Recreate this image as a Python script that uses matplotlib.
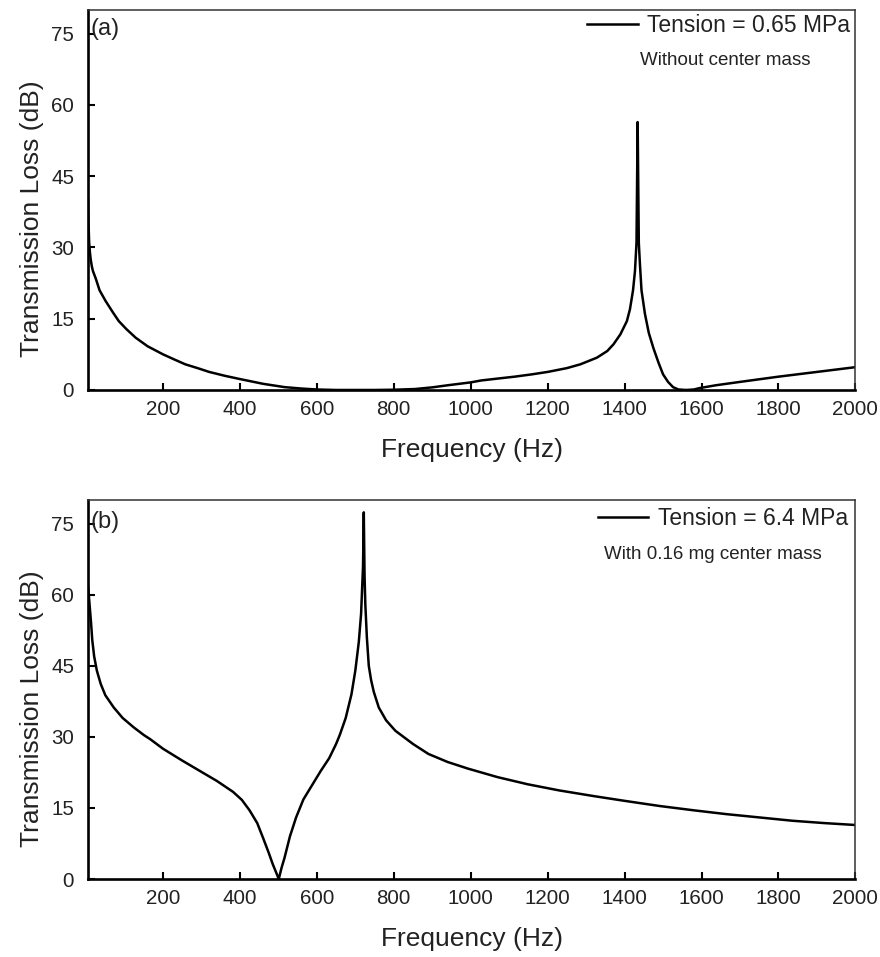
import matplotlib
matplotlib.use("Agg")
import matplotlib.pyplot as plt
from matplotlib.ticker import MultipleLocator

plt.rcParams['font.family'] = ['Liberation Sans', 'DejaVu Sans']

# panel (a): tension 0.65 MPa, no center mass
freq_a = [5, 6, 8, 10, 12, 15, 18, 25, 35, 51, 70, 85, 105, 129, 160, 200, 230,
          258, 290, 320, 360, 400, 460, 516, 560, 600, 650, 700, 750, 800, 855,
          900, 941, 1000, 1027, 1070, 1114, 1160, 1200, 1250, 1285, 1328, 1355,
          1371, 1389, 1406, 1414, 1422, 1427, 1431, 1434, 1437, 1440, 1444,
          1453, 1463, 1475, 1488, 1500, 1513, 1526, 1540, 1560, 1580, 1595,
          1638, 1700, 1750, 1800, 1850, 1900, 1950, 2000]
tl_a = [40, 36, 31, 29, 27.5, 26, 25, 23.5, 21, 18.7, 16.3, 14.5, 12.8, 11, 9.2,
        7.5, 6.4, 5.4, 4.6, 3.8, 3, 2.3, 1.3, 0.6, 0.3, 0.1, 0, 0, 0, 0.05, 0.2,
        0.55, 1, 1.6, 2, 2.4, 2.8, 3.3, 3.8, 4.6, 5.4, 6.8, 8.2,
        9.6, 11.7, 14.5, 17, 21, 25, 31, 56.4, 31, 26.4, 21,
        16, 12, 8.8, 5.8, 3.3, 1.7, 0.6, 0.1, 0, 0.1, 0.4,
        1, 1.7, 2.25, 2.8, 3.3, 3.8, 4.3, 4.8]

# panel (b): tension 6.4 MPa, 0.16 mg center mass
freq_b = [5, 7, 9, 11, 13, 16, 21, 28, 38, 50, 72, 95, 124, 150, 167, 200, 250,
          296, 340, 382, 405, 425, 445, 460, 475, 485, 495, 501, 508, 516, 530,
          546, 565, 589, 610, 632, 650, 660, 675, 690, 700, 709, 715, 718, 720,
          722, 724, 726, 730, 735, 741, 748, 761, 780, 804, 850, 890, 940, 993,
          1070, 1148, 1230, 1320, 1400, 1492, 1580, 1664, 1750, 1836, 1920, 2000]
tl_b = [62, 60, 58, 56, 54, 50.5, 47, 44, 41.2, 38.8, 36.2, 34, 32, 30.4, 29.5,
        27.5, 25, 22.8, 20.7, 18.4, 16.7, 14.5, 11.8, 8.7, 5.5, 3.2, 1.2, 0,
        2.3, 4.5, 9, 13, 16.8, 20, 22.8, 25.5, 28.5, 30.5, 34, 39, 44, 50, 56,
        62, 66, 77.4, 64, 58, 51, 45, 42, 39.5, 36.2, 33.5, 31.3, 28.5, 26.4,
        24.7, 23.3, 21.5, 20, 18.7, 17.5, 16.5, 15.4, 14.5, 13.7, 13, 12.3,
        11.8, 11.4]

panels = [
    ("(a)", freq_a, tl_a, "Tension = 0.65 MPa", "Without center mass",
     [0.1, 0.5925, 0.872, 0.3971], (0.719, 0.868), (0.993, 0.958), 0.95),
    ("(b)", freq_b, tl_b, "Tension = 6.4 MPa", "With 0.16 mg center mass",
     [0.1, 0.0815, 0.872, 0.396], (0.673, 0.855), (0.99, 0.95), 0.942),
]

txtcol = '#222222'
fig = plt.figure(figsize=(8.8, 9.57), dpi=100)

for tag, f, tl, lab, sub, rect, subpos, legpos, tagy in panels:
    ax = fig.add_axes(rect)
    ax.plot(f, tl, '-', color='black', lw=1.8, label=lab)
    ax.set_xlim(5, 2000)
    ax.set_ylim(0, 80)
    ax.set_xticks(range(200, 2001, 200))
    ax.yaxis.set_major_locator(MultipleLocator(15))
    ax.tick_params(direction='in', length=5, width=1.5, labelsize=14.8,
                   labelcolor=txtcol, top=False, right=False)
    ax.tick_params(axis='y', pad=10)
    ax.tick_params(axis='x', pad=7)
    for s in ['left', 'bottom']:
        ax.spines[s].set_linewidth(1.9)
    for s in ['top', 'right']:
        ax.spines[s].set_linewidth(1.1)
        ax.spines[s].set_color('#333333')
    ax.set_xlabel("Frequency (Hz)", fontsize=19, color=txtcol, labelpad=14)
    ax.set_ylabel("Transmission Loss (dB)", fontsize=19, color=txtcol)
    ax.yaxis.set_label_coords(-0.057, 0.45)
    ax.text(0.003, tagy, tag, transform=ax.transAxes, fontsize=17,
            color=txtcol, ha='left', va='center')
    ax.text(subpos[0], subpos[1], sub, transform=ax.transAxes, fontsize=13.5,
            color=txtcol, ha='left', va='center')
    ax.legend(loc='center right', bbox_to_anchor=legpos, frameon=False,
              fontsize=16.5, handlelength=2.2, handletextpad=0.4,
              borderpad=0, borderaxespad=0, labelcolor=txtcol)

fig.savefig("out.png", dpi=100)
